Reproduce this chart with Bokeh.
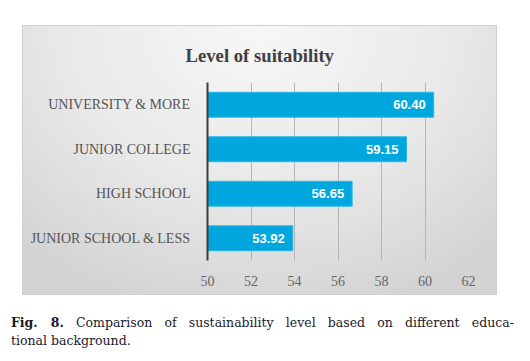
from bokeh.plotting import figure
from bokeh.models import ColumnDataSource, LabelSet, Div, FixedTicker, Spacer
from bokeh.layouts import column, row
from bokeh.embed import file_html
from bokeh.resources import INLINE
from bokeh.core.properties import value

categories = ["JUNIOR SCHOOL & LESS", "HIGH SCHOOL", "JUNIOR COLLEGE", "UNIVERSITY & MORE"]
scores = [53.92, 56.65, 59.15, 60.40]
labels = ["53.92", "56.65", "59.15", "60.40"]
x_ticks = [50, 52, 54, 56, 58, 60, 62]
title_text = "Level of suitability"
caption_words = ["Comparison", "of", "sustainability", "level", "based", "on", "different", "educa-"]
caption_line2 = "tional background."

src = ColumnDataSource(dict(cat=categories, score=scores, label=labels))

p = figure(width=473, height=268, y_range=categories, x_range=(50, 62),
           output_backend="svg", toolbar_location=None, title=title_text,
           min_border_left=184, min_border_right=28, min_border_top=54, min_border_bottom=34)
p.background_fill_alpha = 0
p.border_fill_alpha = 0
p.outline_line_color = None
p.styles = {"background": "radial-gradient(ellipse 75% 110% at 50% 0%, #f7f7f7 0%, #e9e9e9 55%, #d3d3d3 100%)",
            "box-shadow": "0 0 0 1px #cfcfcf"}

p.title.align = "left"
p.title.offset = -22
p.title.standoff = 33
p.title.text_color = "#404040"
p.title.text_font = "Liberation Serif"
p.title.text_font_style = "bold"
p.title.text_font_size = "18.7px"

p.hbar(y="cat", left=50, right="score", height=0.56, source=src,
       fill_color="#00a7df", line_color="#2fb6e6", line_width=1)

p.add_layout(LabelSet(x="score", y="cat", text="label", source=src, x_offset=-8,
                      text_align="right", text_baseline="middle", text_color="white",
                      text_font=value("Liberation Sans"), text_font_style="bold",
                      text_font_size="13px"))

p.xaxis.ticker = FixedTicker(ticks=x_ticks)
p.xaxis.axis_line_color = None
p.xaxis.major_tick_line_color = None
p.xaxis.minor_tick_line_color = None
p.xaxis.major_label_standoff = 9
p.xaxis.major_label_text_font = "Liberation Serif"
p.xaxis.major_label_text_font_size = "14px"
p.xaxis.major_label_text_color = "#666666"

p.yaxis.axis_line_color = "#3c3c3c"
p.yaxis.axis_line_width = 2
p.yaxis.major_tick_line_color = None
p.yaxis.minor_tick_line_color = None
p.yaxis.major_label_standoff = 11
p.yaxis.major_label_text_font = "Liberation Serif"
p.yaxis.major_label_text_font_size = "14px"
p.yaxis.major_label_text_color = "#555555"

p.xgrid.grid_line_color = "#b5b5b5"
p.xgrid.grid_line_width = 1
p.ygrid.grid_line_color = None

spans = "".join(f"<span>{w}</span>" for w in caption_words)
html = (
    '<div style="padding-top:15px;padding-left:6px;">'
    '<div style="display:flex;justify-content:space-between;width:503px">'
    '<span><b>Fig.&nbsp;&nbsp;&nbsp;8.</b></span>' + spans + '</div>'
    f'<div>{caption_line2}</div></div>'
)
cap = Div(text=html, width=515,
          styles={"font-family": "'DejaVu Serif'", "font-size": "12.5px",
                  "line-height": "18px", "color": "#1a1a2a"})

layout = column(Spacer(height=26), row(Spacer(width=23), p), cap, spacing=0)
open("out.html", "w").write(file_html(layout, INLINE))
